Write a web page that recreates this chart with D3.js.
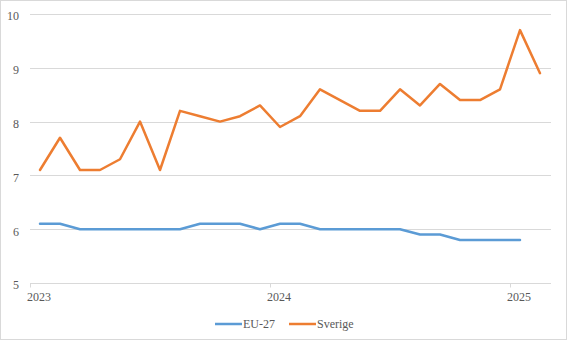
<!DOCTYPE html>
<html>
<head>
<meta charset="utf-8">
<script src="https://cdn.jsdelivr.net/npm/d3@7/dist/d3.min.js"></script>
<style>
  html, body { margin: 0; padding: 0; background: #fff; }
  svg { display: block; }
  text { font-family: "Liberation Serif", "Times New Roman", serif; font-size: 12px; fill: #595959; }
</style>
</head>
<body>
<svg id="chart" width="568" height="342"></svg>
<script>
// Monthly observations, January 2023 onwards
const months = [
  "2023-01","2023-02","2023-03","2023-04","2023-05","2023-06",
  "2023-07","2023-08","2023-09","2023-10","2023-11","2023-12",
  "2024-01","2024-02","2024-03","2024-04","2024-05","2024-06",
  "2024-07","2024-08","2024-09","2024-10","2024-11","2024-12",
  "2025-01","2025-02"
];
const euValues = [6.1, 6.1, 6.0, 6.0, 6.0, 6.0, 6.0, 6.0, 6.1, 6.1, 6.1, 6.0,
                  6.1, 6.1, 6.0, 6.0, 6.0, 6.0, 6.0, 5.9, 5.9, 5.8, 5.8, 5.8,
                  5.8];
const seValues = [7.1, 7.7, 7.1, 7.1, 7.3, 8.0, 7.1, 8.2, 8.1, 8.0, 8.1, 8.3,
                  7.9, 8.1, 8.6, 8.4, 8.2, 8.2, 8.6, 8.3, 8.7, 8.4, 8.4, 8.6,
                  9.7, 8.9];
const seriesNames = ["EU-27", "Sverige"];
const seriesColors = ["#5B9BD5", "#ED7D31"];
const yTicks = [5, 6, 7, 8, 9, 10];
const yearTicks = ["2023", "2024", "2025"];

const svg = d3.select("#chart");
const W = 568, H = 342;

// Outer chart frame
svg.append("rect")
  .attr("x", 0.5).attr("y", 0.5)
  .attr("width", W - 2).attr("height", H - 3)
  .attr("fill", "#fff").attr("stroke", "#d9d9d9");

// Month index counted from the first month of the series
const base = months[0].split("-").map(Number);
const monthIndex = m => {
  const [y, mo] = m.split("-").map(Number);
  return (y - base[0]) * 12 + (mo - base[1]);
};

const x = d3.scaleLinear().domain([-0.5, months.length - 0.5]).range([30, 550]);
const y = d3.scaleLinear().domain([5, 10]).range([283, 14]);

// Horizontal gridlines
svg.append("g").selectAll("line")
  .data(yTicks.filter(t => t !== 5))
  .join("line")
  .attr("x1", x.range()[0]).attr("x2", x.range()[1] + 1)
  .attr("y1", d => Math.round(y(d)) + 0.5).attr("y2", d => Math.round(y(d)) + 0.5)
  .attr("stroke", "#d9d9d9").attr("stroke-width", 1);

// Y axis labels
const yAxis = d3.axisLeft(y).tickValues(yTicks).tickSize(0).tickPadding(0).tickFormat(d3.format("d"));
const gy = svg.append("g").attr("transform", "translate(19,2)").call(yAxis);
gy.select(".domain").remove();
gy.selectAll("text").style("font-size", "12px").attr("fill", "#595959")
  .style("font-family", '"Liberation Serif", serif');

// X axis: baseline with year ticks at the start of each year, labels under January
const yearStart = yr => monthIndex(yr + "-01") - 0.5;
const xAxisY = Math.round(y(5)) + 0.5;
const gx = svg.append("g");
gx.append("line")
  .attr("x1", x.range()[0]).attr("x2", x.range()[1] + 1)
  .attr("y1", xAxisY).attr("y2", xAxisY)
  .attr("stroke", "#d9d9d9");
gx.selectAll("line.tick")
  .data(yearTicks)
  .join("line")
  .attr("class", "tick")
  .attr("x1", d => Math.round(x(yearStart(d))) + 0.5)
  .attr("x2", d => Math.round(x(yearStart(d))) + 0.5)
  .attr("y1", xAxisY).attr("y2", xAxisY + 4)
  .attr("stroke", "#d9d9d9");
gx.selectAll("text")
  .data(yearTicks)
  .join("text")
  .attr("x", d => x(monthIndex(d + "-01")) - 1)
  .attr("y", 301)
  .attr("text-anchor", "middle")
  .text(d => d);

// Series lines
const line = d3.line()
  .x((d, i) => x(monthIndex(months[i])))
  .y(d => y(d));

[euValues, seValues].forEach((vals, k) => {
  svg.append("path")
    .datum(vals)
    .attr("d", line)
    .attr("fill", "none")
    .attr("stroke", seriesColors[k])
    .attr("stroke-width", 2.5)
    .attr("stroke-linejoin", "round")
    .attr("stroke-linecap", "round");
});

// Legend
const legendX = [215, 289];
const lg = svg.append("g");
seriesNames.forEach((name, k) => {
  lg.append("line")
    .attr("x1", legendX[k]).attr("x2", legendX[k] + 27)
    .attr("y1", 324).attr("y2", 324)
    .attr("stroke", seriesColors[k]).attr("stroke-width", 2.5);
  lg.append("text")
    .attr("x", legendX[k] + 28).attr("y", 328)
    .text(name);
});
</script>
</body>
</html>
